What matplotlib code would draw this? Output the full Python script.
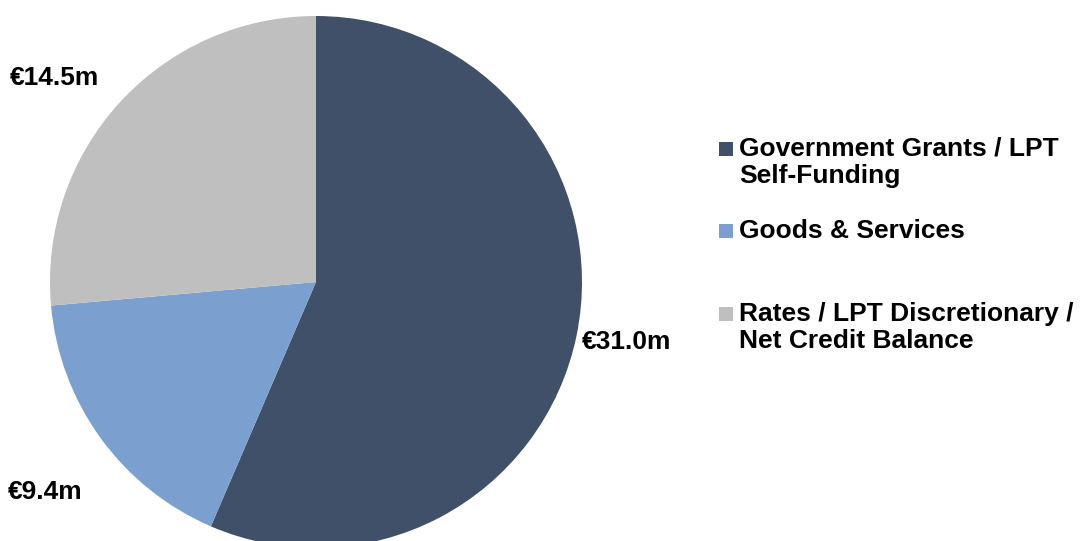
import matplotlib.pyplot as plt
from matplotlib.patches import Rectangle

plt.rcParams['font.family'] = ['Liberation Sans', 'DejaVu Sans']

categories = ['Government Grants / LPT\nSelf-Funding', 'Goods & Services',
              'Rates / LPT Discretionary /\nNet Credit Balance']
values = [31.0, 9.4, 14.5]
value_labels = ['€31.0m', '€9.4m', '€14.5m']
colors = ['#405068', '#7BA0CF', '#BFBFBF']

W, H = 1080, 541
fig = plt.figure(figsize=(W / 100, H / 100), dpi=100)
ax = fig.add_axes([0, 0, 1, 1])

# pie in pixel coords (y measured from bottom)
ax.pie(values, colors=colors, startangle=90, counterclock=False,
       center=(316, H - 282), radius=266, frame=True,
       wedgeprops=dict(linewidth=0))
ax.set_xlim(0, W)
ax.set_ylim(0, H)
ax.axis('off')

# value labels
label_pos = [(582, 342), (8, 492), (10, 78)]
for (x, y), txt in zip(label_pos, value_labels):
    ax.text(x, H - y, txt, fontsize=19, fontweight='bold', ha='left', va='center')

# legend drawn by hand (marker aligned with first line, like Excel)
legend_y = [149, 231, 314]
for y, lab, c in zip(legend_y, categories, colors):
    ax.add_patch(Rectangle((719, H - y - 7), 14, 14, color=c, lw=0))
    for i, line in enumerate(lab.split('\n')):
        ax.text(739, H - (y + i * 27), line, fontsize=19, fontweight='bold',
                ha='left', va='center')

fig.savefig('out.png', dpi=100)
